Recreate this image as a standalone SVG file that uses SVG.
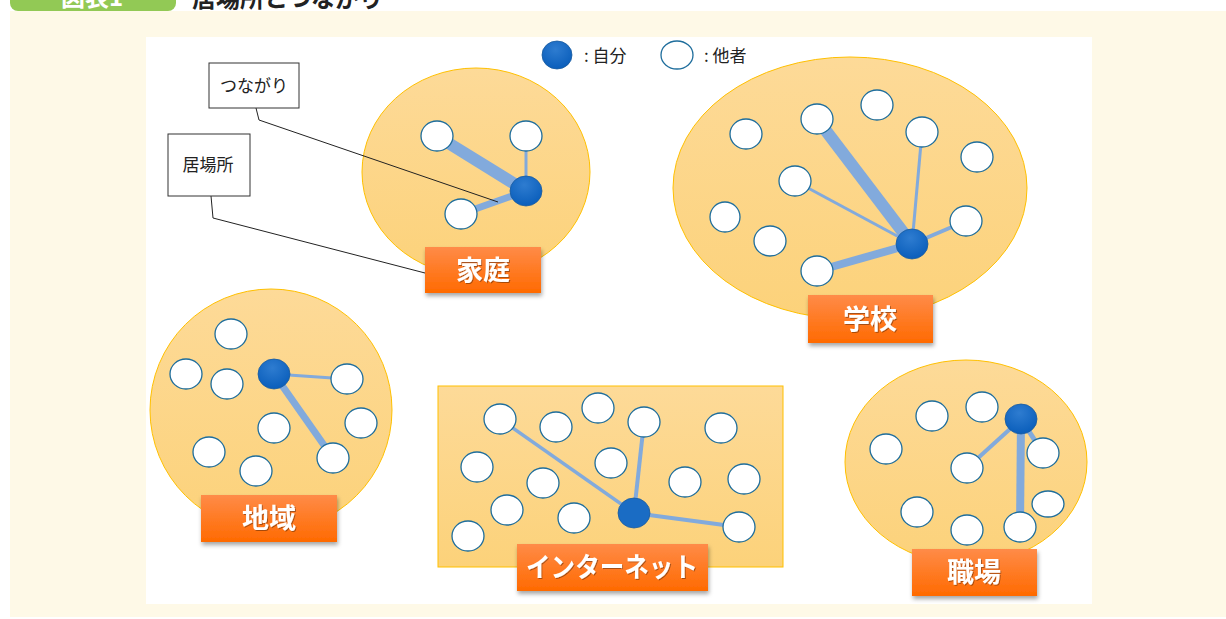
<svg xmlns="http://www.w3.org/2000/svg" width="1226" height="619" viewBox="0 0 1226 619">
<defs>
<linearGradient id="gBlob" x1="0" y1="0" x2="0" y2="1"><stop offset="0" stop-color="#FDDA98"/><stop offset="1" stop-color="#FCD27A"/></linearGradient>
<linearGradient id="gLbl" x1="0" y1="0" x2="0" y2="1"><stop offset="0" stop-color="#FF8B48"/><stop offset="1" stop-color="#FF6A00"/></linearGradient>
<radialGradient id="gSelf" cx="0.45" cy="0.3" r="0.7"><stop offset="0" stop-color="#2E7CD0"/><stop offset="1" stop-color="#0A5EBB"/></radialGradient>
<filter id="sh" x="-10%" y="-10%" width="130%" height="140%"><feDropShadow dx="1" dy="3" stdDeviation="2" flood-color="#000" flood-opacity="0.35"/></filter>
<filter id="tsh"><feDropShadow dx="1" dy="1" stdDeviation="0.6" flood-color="#000" flood-opacity="0.35"/></filter>
</defs>
<style>
.blob{fill:url(#gBlob);stroke:#FFC000;stroke-width:1}
.o{fill:#fff;stroke:#1E6D9C;stroke-width:1.3}
.s{fill:url(#gSelf);stroke:#1A5C9E;stroke-width:0.8}
.c{stroke:#82AADC;fill:none;stroke-linecap:butt}
.lbl{fill:url(#gLbl);filter:url(#sh)}
.lt{font-family:"Noto Sans CJK JP",sans-serif;font-weight:bold;font-size:27px;fill:#fff;text-anchor:middle;filter:url(#tsh)}
.t{font-family:"Noto Sans CJK JP",sans-serif;fill:#222;font-size:17px}
.box{fill:#fff;stroke:#333;stroke-width:1}
.ld{stroke:#222;stroke-width:1;fill:none}
</style>
<rect width="1226" height="619" fill="#fff"/>
<rect x="10" y="11" width="1216" height="606" fill="#FEF9E7"/>
<rect x="10" y="-20" width="166" height="31" rx="8" fill="#92C955"/>
<text x="92" y="6" font-family="Noto Sans CJK JP,sans-serif" font-weight="bold" font-size="24" fill="#fff" text-anchor="middle">図表1</text>
<text x="192" y="7" font-family="Noto Sans CJK JP,sans-serif" font-weight="bold" font-size="24" fill="#222">居場所とつながり</text>
<rect x="146" y="37" width="946" height="567" fill="#fff"/>

<g id="legend">
<ellipse cx="557" cy="55" rx="15" ry="14" class="s"/>
<text x="584" y="62" class="t">: 自分</text>
<ellipse cx="677" cy="55" rx="16" ry="14" class="o"/>
<text x="704" y="62" class="t">: 他者</text>
</g>

<g id="backgrounds">
<ellipse id="bg-katei" cx="476" cy="172" rx="114" ry="104" class="blob"/>
<ellipse id="bg-gakkou" cx="850" cy="188" rx="177" ry="131" class="blob"/>
<ellipse id="bg-chiiki" cx="271" cy="410" rx="121" ry="121" class="blob"/>
<rect id="bg-net" x="438" y="386" width="345" height="181" class="blob"/>
<ellipse id="bg-shokuba" cx="966" cy="462" rx="121" ry="102" class="blob"/>
</g>

<g id="connectors">
<line x1="526" y1="191" x2="437" y2="136" class="c" stroke-width="12"/>
<line x1="526" y1="191" x2="526" y2="136" class="c" stroke-width="3"/>
<line x1="526" y1="191" x2="461" y2="214" class="c" stroke-width="7"/>
<line x1="912" y1="244" x2="817" y2="119" class="c" stroke-width="12"/>
<line x1="912" y1="244" x2="922" y2="132" class="c" stroke-width="3"/>
<line x1="912" y1="244" x2="795" y2="181" class="c" stroke-width="3"/>
<line x1="912" y1="244" x2="966" y2="221" class="c" stroke-width="4"/>
<line x1="912" y1="244" x2="817" y2="271" class="c" stroke-width="8"/>
<line x1="274" y1="374" x2="347" y2="379" class="c" stroke-width="3"/>
<line x1="274" y1="374" x2="333" y2="458" class="c" stroke-width="7"/>
<line x1="634" y1="513" x2="500" y2="419" class="c" stroke-width="3.5"/>
<line x1="634" y1="513" x2="644" y2="422" class="c" stroke-width="4"/>
<line x1="634" y1="513" x2="739" y2="527" class="c" stroke-width="4"/>
<line x1="1021" y1="419" x2="967" y2="468" class="c" stroke-width="4"/>
<line x1="1021" y1="419" x2="1020" y2="527" class="c" stroke-width="8"/>
<line x1="1021" y1="419" x2="1043" y2="453" class="c" stroke-width="5"/>
</g>

<g id="katei">
<ellipse cx="437" cy="136" rx="16" ry="15" class="o"/>
<ellipse cx="526" cy="136" rx="16" ry="15" class="o"/>
<ellipse cx="461" cy="214" rx="16" ry="15" class="o"/>
<ellipse cx="526" cy="191" rx="16" ry="15" class="s"/>
</g>

<g id="gakkou">
<ellipse cx="746" cy="134" rx="16" ry="15" class="o"/>
<ellipse cx="817" cy="119" rx="16" ry="15" class="o"/>
<ellipse cx="877" cy="105" rx="16" ry="15" class="o"/>
<ellipse cx="922" cy="132" rx="16" ry="15" class="o"/>
<ellipse cx="977" cy="157" rx="16" ry="15" class="o"/>
<ellipse cx="795" cy="181" rx="16" ry="15" class="o"/>
<ellipse cx="725" cy="217" rx="15" ry="15" class="o"/>
<ellipse cx="770" cy="241" rx="16" ry="15" class="o"/>
<ellipse cx="966" cy="221" rx="16" ry="15" class="o"/>
<ellipse cx="817" cy="271" rx="16" ry="15" class="o"/>
<ellipse cx="912" cy="244" rx="16" ry="15" class="s"/>
</g>

<g id="chiiki">
<ellipse cx="231" cy="334" rx="16" ry="15" class="o"/>
<ellipse cx="186" cy="374" rx="16" ry="15" class="o"/>
<ellipse cx="227" cy="384" rx="16" ry="15" class="o"/>
<ellipse cx="274" cy="428" rx="16" ry="15" class="o"/>
<ellipse cx="209" cy="452" rx="16" ry="15" class="o"/>
<ellipse cx="256" cy="471" rx="16" ry="15" class="o"/>
<ellipse cx="347" cy="379" rx="16" ry="15" class="o"/>
<ellipse cx="361" cy="423" rx="16" ry="15" class="o"/>
<ellipse cx="333" cy="458" rx="16" ry="15" class="o"/>
<ellipse cx="274" cy="374" rx="16" ry="15" class="s"/>
</g>

<g id="internet">
<ellipse cx="500" cy="419" rx="16" ry="15" class="o"/>
<ellipse cx="556" cy="427" rx="16" ry="15" class="o"/>
<ellipse cx="598" cy="408" rx="16" ry="15" class="o"/>
<ellipse cx="644" cy="422" rx="16" ry="15" class="o"/>
<ellipse cx="721" cy="428" rx="16" ry="15" class="o"/>
<ellipse cx="477" cy="467" rx="16" ry="15" class="o"/>
<ellipse cx="611" cy="463" rx="16" ry="15" class="o"/>
<ellipse cx="543" cy="483" rx="16" ry="15" class="o"/>
<ellipse cx="685" cy="482" rx="16" ry="15" class="o"/>
<ellipse cx="744" cy="479" rx="16" ry="15" class="o"/>
<ellipse cx="507" cy="510" rx="16" ry="15" class="o"/>
<ellipse cx="574" cy="518" rx="16" ry="15" class="o"/>
<ellipse cx="468" cy="536" rx="16" ry="15" class="o"/>
<ellipse cx="739" cy="527" rx="16" ry="15" class="o"/>
<ellipse cx="634" cy="513" rx="16" ry="15" class="s" style="fill:#1A6CC4"/>
</g>

<g id="shokuba">
<ellipse cx="932" cy="416" rx="16" ry="15" class="o"/>
<ellipse cx="982" cy="407" rx="16" ry="15" class="o"/>
<ellipse cx="886" cy="449" rx="16" ry="15" class="o"/>
<ellipse cx="967" cy="468" rx="16" ry="15" class="o"/>
<ellipse cx="1043" cy="453" rx="16" ry="15" class="o"/>
<ellipse cx="1048" cy="504" rx="16" ry="13" class="o"/>
<ellipse cx="917" cy="512" rx="16" ry="15" class="o"/>
<ellipse cx="967" cy="530" rx="16" ry="15" class="o"/>
<ellipse cx="1020" cy="527" rx="16" ry="15" class="o"/>
<ellipse cx="1021" cy="419" rx="16" ry="15" class="s"/>
</g>

<g id="callouts">
<polyline points="256,108 259,120 498,202" class="ld"/>
<polyline points="211,196 213,218 425,273" class="ld"/>
<g id="callout-tsunagari">
<rect x="209" y="63" width="90" height="45" class="box"/>
<text x="254" y="92" class="t" text-anchor="middle">つながり</text>
</g>
<g id="callout-ibasho">
<rect x="168" y="134" width="82" height="62" class="box"/>
<text x="208" y="171" class="t" text-anchor="middle">居場所</text>
</g>
</g>

<g id="label-katei"><rect x="425" y="247" width="116" height="46" class="lbl"/><text x="483" y="280" class="lt">家庭</text></g>
<g id="label-gakkou"><rect x="808" y="295" width="125" height="48" class="lbl"/><text x="870" y="329" class="lt">学校</text></g>
<g id="label-chiiki"><rect x="201" y="495" width="136" height="47" class="lbl"/><text x="269" y="528" class="lt">地域</text></g>
<g id="label-net"><rect x="517" y="544" width="191" height="47" class="lbl"/><text x="612" y="577" class="lt" textLength="172" lengthAdjust="spacingAndGlyphs">インターネット</text></g>
<g id="label-shokuba"><rect x="912" y="549" width="125" height="47" class="lbl"/><text x="974" y="582" class="lt">職場</text></g>
</svg>
